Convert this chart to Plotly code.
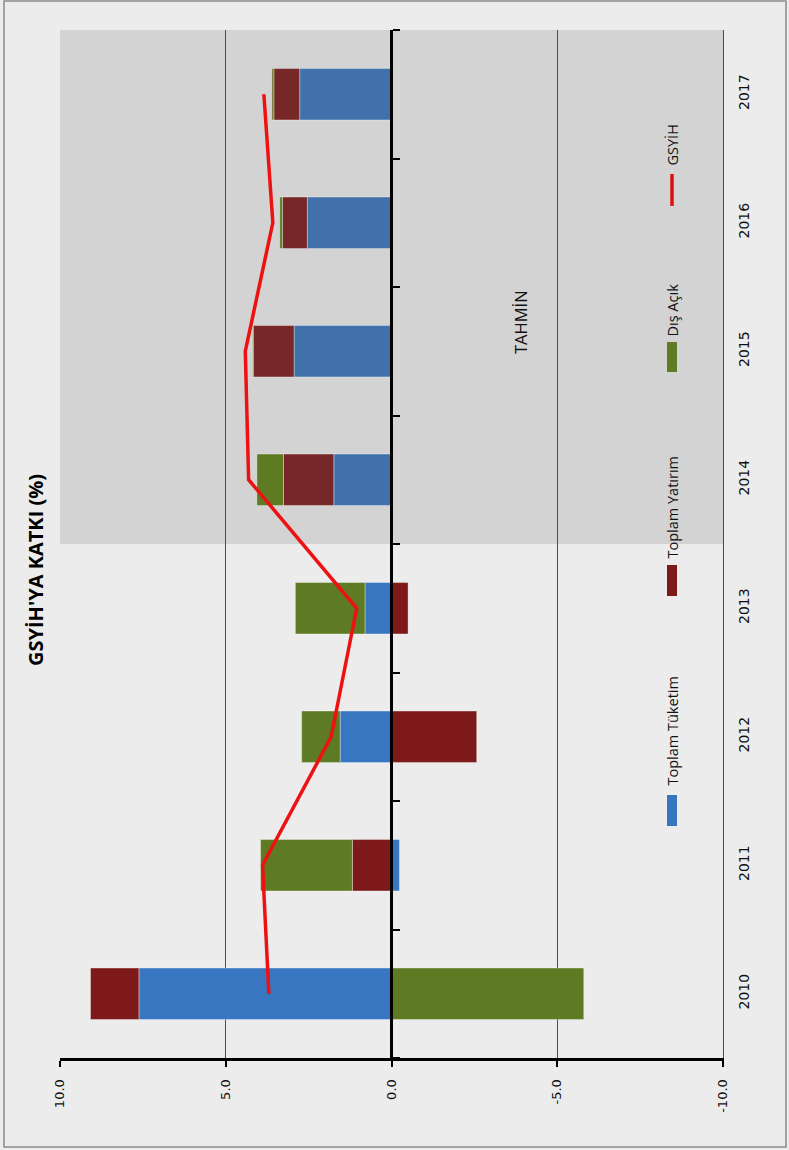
import plotly.graph_objects as go

# ---- data ----
years = ["2010", "2011", "2012", "2013", "2014", "2015", "2016", "2017"]
toplam_tuketim = [7.62, -0.24, 1.55, 0.80, 1.74, 2.94, 2.54, 2.77]
toplam_yatirim = [1.46, 1.18, -2.57, -0.50, 1.52, 1.23, 0.75, 0.78]
dis_acik = [-5.80, 2.77, 1.16, 2.10, 0.80, 0.02, 0.08, 0.06]
gsyih = [3.70, 3.89, 1.82, 1.05, 4.31, 4.41, 3.58, 3.85]
value_ticks = [10, 5, 0, -5, -10]
value_tick_text = ["10.0", "5.0", "0.0", "-5.0", "-10.0"]
series_names = ["Toplam Tüketim", "Toplam Yatırım", "Dış Açık", "GSYİH"]

# ---- styling ----
W, H = 789, 1150
L, R, T, B = 60, 66, 30, 92
PW, PH = W - L - R, H - T - B

blue_c = ["#3876c2"] * 4 + ["#4170ab"] * 4
red_c = ["#7d1919"] * 4 + ["#772727"] * 4
green_c = ["#5e7a22"] * 8
edge = dict(color="rgba(255,255,255,0.35)", width=1)


def px(xp):
    return (xp - L) / PW


def py(yp):
    return (H - B - yp) / PH


fig = go.Figure()
fig.add_trace(go.Bar(y=years, x=toplam_tuketim, orientation="h", name=series_names[0],
                     marker=dict(color=blue_c, line=edge)))
fig.add_trace(go.Bar(y=years, x=toplam_yatirim, orientation="h", name=series_names[1],
                     marker=dict(color=red_c, line=edge)))
fig.add_trace(go.Bar(y=years, x=dis_acik, orientation="h", name=series_names[2],
                     marker=dict(color=green_c, line=edge)))
fig.add_trace(go.Scatter(y=years, x=gsyih, mode="lines", name=series_names[3],
                         line=dict(color="#ee1111", width=3.5)))
# helper trace for the category axis drawn on the zero line
fig.add_trace(go.Scatter(y=years, x=[0] * len(years), yaxis="y2", mode="markers",
                         marker=dict(opacity=0), showlegend=False, hoverinfo="skip"))

shapes = [
    dict(type="rect", xref="paper", yref="y", x0=0, x1=1, y0=3.5, y1=7.5,
         fillcolor="#d3d3d3", line=dict(width=0), layer="below"),
    # zero line drawn over the bars
    dict(type="line", xref="x", yref="paper", x0=0, x1=0, y0=0, y1=1,
         line=dict(color="black", width=3), layer="above"),
    # outer frame
    dict(type="rect", xref="paper", yref="paper", x0=px(4), x1=px(786), y0=py(1147), y1=py(1),
         line=dict(color="#8a8a8a", width=1.5), fillcolor="rgba(0,0,0,0)", layer="below"),
    # legend swatches
    dict(type="rect", xref="paper", yref="paper", x0=px(667), x1=px(677), y0=py(826), y1=py(795),
         fillcolor=blue_c[0], line=dict(width=0)),
    dict(type="rect", xref="paper", yref="paper", x0=px(667), x1=px(677), y0=py(596), y1=py(565),
         fillcolor=red_c[0], line=dict(width=0)),
    dict(type="rect", xref="paper", yref="paper", x0=px(667), x1=px(677), y0=py(372), y1=py(342),
         fillcolor=green_c[0], line=dict(width=0)),
    dict(type="line", xref="paper", yref="paper", x0=px(672), x1=px(672), y0=py(206), y1=py(174),
         line=dict(color="#dd1111", width=3.5)),
]

lab_font = dict(family="Open Sans", size=14.5, color="#111111")
annotations = [
    dict(text="<b>GSYİH'YA KATKI (%)</b>", textangle=-90, xref="paper", yref="paper",
         x=px(35), y=py(570), xanchor="center", yanchor="middle", showarrow=False,
         font=dict(family="Open Sans", size=20, color="#000000")),
    dict(text="TAHMİN", textangle=-90, xref="paper", yref="paper",
         x=px(520), y=py(322), xanchor="center", yanchor="middle", showarrow=False,
         font=dict(family="Open Sans", size=16.5, color="#111111")),
]
for name, ybot in zip(series_names, [788, 561, 339, 168]):
    annotations.append(dict(text=name, textangle=-90, xref="paper", yref="paper",
                            x=px(672), y=py(ybot), xanchor="center", yanchor="bottom",
                            showarrow=False, font=lab_font))

fig.update_layout(
    width=W, height=H,
    margin=dict(l=L, r=R, t=T, b=B, pad=0),
    paper_bgcolor="#ececec", plot_bgcolor="#ececec",
    barmode="relative", bargap=0.6,
    showlegend=False,
    shapes=shapes, annotations=annotations,
    xaxis=dict(range=[10, -10], autorange=False, tickvals=value_ticks, ticktext=value_tick_text,
               tickangle=-90, showgrid=True, gridcolor="#4d4d4d", gridwidth=1,
               zeroline=False,
               showline=True, linecolor="black", linewidth=3,
               ticks="outside", ticklen=6, tickwidth=2, tickcolor="black",
               tickfont=dict(family="DejaVu Sans", size=13, color="#111111"),
               ticklabelstandoff=7),
    yaxis=dict(type="category", categoryorder="array", categoryarray=years,
               range=[-0.5, 7.5], autorange=False, side="right", tickangle=-90,
               showgrid=False, showline=True, linecolor="#4d4d4d", linewidth=1,
               ticks="", tickfont=dict(family="DejaVu Sans", size=14, color="#111111"),
               ticklabelstandoff=8),
    yaxis2=dict(type="category", categoryorder="array", categoryarray=years,
                range=[-0.5, 7.5], autorange=False, overlaying="y", anchor="free",
                position=0.5, side="right", ticks="outside", tickson="boundaries",
                ticklen=7, tickwidth=2, tickcolor="black", showticklabels=False,
                showgrid=False, showline=False, zeroline=False),
)

fig.write_html("out.html", config={"displayModeBar": False},
               post_script="document.body.style.margin='0';")
